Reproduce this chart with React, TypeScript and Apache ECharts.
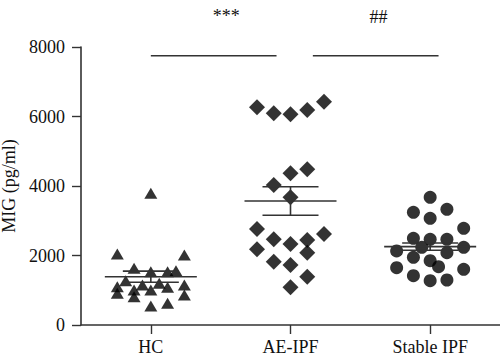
import React, { useEffect, useRef } from "react";
import * as echarts from "echarts";

const categories = ["HC", "AE-IPF", "Stable IPF"];
const yTicks = [0, 2000, 4000, 6000, 8000];

// values (pg/ml) and horizontal jitter (in category widths)
const hcValues = [3790, 2043, 2014, 1631, 1534, 1534, 1563, 1275, 1103, 1151, 1199, 1151, 1007, 1007, 1085, 912, 815, 863, 547, 624];
const hcJitter = [0, -0.24, 0.24, -0.12, 0, 0.12, 0.18, -0.18, -0.24, -0.06, 0.06, 0.24, -0.12, 0, 0.12, -0.24, -0.12, 0.24, 0, 0.12];

const aeValues = [6264, 6091, 6063, 6187, 6426, 4480, 4365, 4029, 3675, 2762, 2466, 2331, 2446, 2619, 2178, 2081, 1822, 1727, 1390, 1085];
const aeJitter = [-0.24, -0.12, 0, 0.12, 0.24, 0.12, 0, -0.12, 0, -0.24, -0.12, 0, 0.12, 0.24, -0.24, 0.12, -0.12, 0, 0.12, 0];

const stValues = [3675, 3243, 3329, 3070, 2783, 2495, 2466, 2466, 2236, 2236, 2130, 1948, 2081, 1850, 1678, 1649, 1602, 1419, 1275, 1295];
const stJitter = [0, -0.12, 0.12, 0, 0.24, -0.12, 0, 0.12, -0.06, 0.24, -0.24, -0.12, 0.12, 0, 0.06, -0.24, 0.24, -0.12, 0, 0.12];

// mean and SEM
const means = [1390, 3570, 2255];
const sems = [160, 410, 105];

// significance brackets
const bracketFrom = [0, 1.16];
const bracketTo = [0.9, 2.06];
const bracketY = [7750, 7750];
const bracketLabels = ["***", "##"];
const bracketLabelX = [0.54, 1.63];
const bracketLabelY = [8880, 8860];

const FONT = "'Liberation Serif', 'DejaVu Serif', serif";
const INK = "#111";
const LINE = "#333";

function pts(values: number[], jitter: number[], idx: number) {
  return values.map((v, i) => [idx + jitter[i], v]);
}

export default function App() {
  const ref = useRef<HTMLDivElement>(null);
  useEffect(() => {
    if (!ref.current) return;
    const chart = echarts.init(ref.current, null, { renderer: "svg" });
    const scatterBase = {
      type: "scatter" as const,
      xAxisIndex: 1,
      yAxisIndex: 0,
      itemStyle: { color: "#000" },
      z: 3,
    };
    chart.setOption({
      animation: false,
      grid: { left: 81, right: 0, top: 47, bottom: 38, containLabel: false, outerBoundsMode: "none" },
      xAxis: [
        {
          type: "category",
          data: categories,
          boundaryGap: true,
          axisLine: { show: true, onZero: false, lineStyle: { color: LINE, width: 1.6 } },
          axisTick: { show: true, alignWithLabel: true, length: 9, lineStyle: { color: LINE, width: 1.4 } },
          axisLabel: { color: INK, fontFamily: FONT, fontSize: 18, margin: 13 },
          splitLine: { show: false },
        },
        {
          type: "value",
          min: -0.5,
          max: 2.5,
          show: false,
          axisLine: { onZero: false },
        },
      ],
      yAxis: [
        {
          type: "value",
          min: yTicks[0],
          max: yTicks[yTicks.length - 1],
          interval: 2000,
          name: "MIG (pg/ml)",
          nameLocation: "middle",
          nameGap: 61,
          nameTextStyle: { color: INK, fontFamily: FONT, fontSize: 18 },
          axisLine: { show: true, onZero: false, lineStyle: { color: LINE, width: 1.6 } },
          axisTick: { show: true, length: 9, lineStyle: { color: LINE, width: 1.4 } },
          axisLabel: {
            color: INK,
            fontFamily: FONT,
            fontSize: 18,
            margin: 16,
            formatter: (v: number) => String(v),
          },
          splitLine: { show: false },
        },
      ],
      series: [
        { ...scatterBase, name: "HC", symbol: "triangle", symbolSize: [13, 11], data: pts(hcValues, hcJitter, 0) },
        { ...scatterBase, name: "AE-IPF", symbol: "diamond", symbolSize: [16, 16], data: pts(aeValues, aeJitter, 1) },
        { ...scatterBase, name: "Stable IPF", symbol: "circle", symbolSize: 13, data: pts(stValues, stJitter, 2) },
        {
          type: "custom",
          xAxisIndex: 1,
          yAxisIndex: 0,
          z: 4,
          data: means.map((m, i) => [i, m, sems[i]]),
          renderItem: (params: any, api: any) => {
            const i = api.value(0);
            const m = api.value(1);
            const s = api.value(2);
            const c = api.coord([i, m]);
            const up = api.coord([i, m + s]);
            const lo = api.coord([i, m - s]);
            const style = { stroke: LINE, lineWidth: 1.6, fill: null };
            return {
              type: "group",
              children: [
                { type: "line", shape: { x1: c[0] - 46, y1: c[1], x2: c[0] + 46, y2: c[1] }, style },
                { type: "line", shape: { x1: c[0] - 28, y1: up[1], x2: c[0] + 28, y2: up[1] }, style },
                { type: "line", shape: { x1: c[0] - 28, y1: lo[1], x2: c[0] + 28, y2: lo[1] }, style },
                { type: "line", shape: { x1: c[0], y1: up[1], x2: c[0], y2: lo[1] }, style },
              ],
            };
          },
        },
        {
          type: "custom",
          xAxisIndex: 1,
          yAxisIndex: 0,
          z: 4,
          clip: false,
          data: bracketFrom.map((f, i) => [f, bracketTo[i], bracketY[i], bracketLabelX[i], bracketLabelY[i], i]),
          renderItem: (params: any, api: any) => {
            const a = api.coord([api.value(0), api.value(2)]);
            const b = api.coord([api.value(1), api.value(2)]);
            const t = api.coord([api.value(3), api.value(4)]);
            const idx = api.value(5);
            return {
              type: "group",
              children: [
                { type: "line", shape: { x1: a[0], y1: a[1], x2: b[0], y2: b[1] }, style: { stroke: LINE, lineWidth: 1.6 } },
                {
                  type: "text",
                  x: t[0],
                  y: t[1],
                  style: {
                    text: bracketLabels[idx],
                    fill: INK,
                    font: `18px ${FONT}`,
                    align: "center",
                    verticalAlign: "middle",
                  },
                },
              ],
            };
          },
        },
      ],
    });
    return () => chart.dispose();
  }, []);
  return <div ref={ref} style={{ width: 500, height: 363, position: "absolute", left: 0, top: 0 }} />;
}
